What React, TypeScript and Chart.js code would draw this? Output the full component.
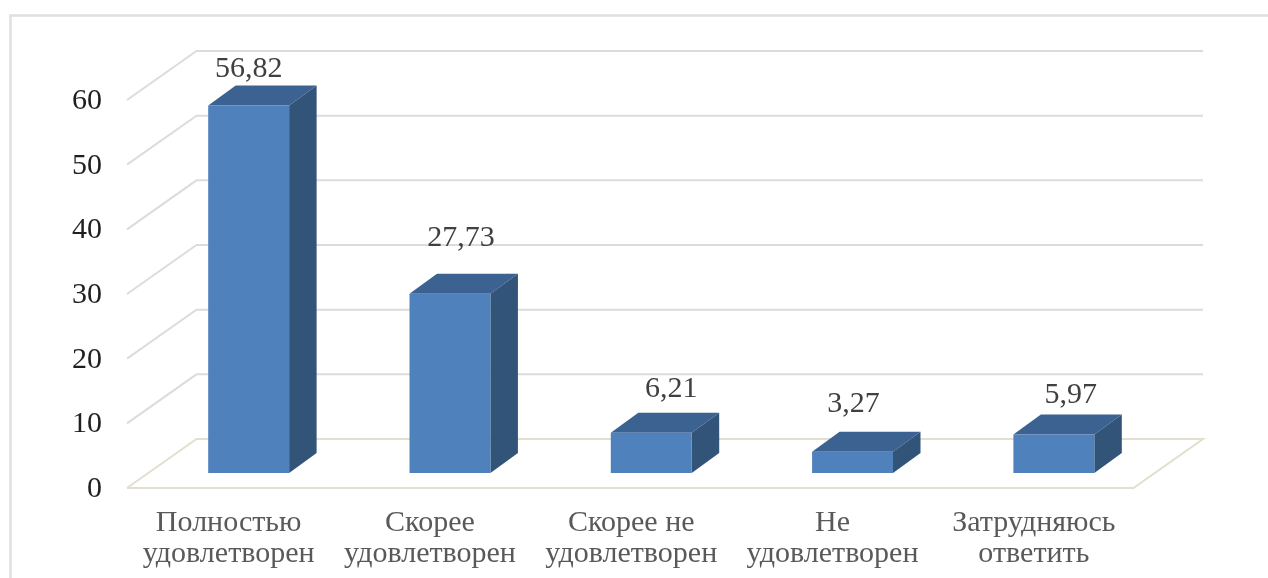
import React, { useEffect, useRef } from "react";
import { Chart, registerables } from "chart.js";

Chart.register(...registerables);

const categories = [
  ["Полностью", "удовлетворен"],
  ["Скорее", "удовлетворен"],
  ["Скорее не", "удовлетворен"],
  ["Не", "удовлетворен"],
  ["Затрудняюсь", "ответить"],
];
const seriesValues = [56.82, 27.73, 6.21, 3.27, 5.97];
const yTicks = { min: 0, max: 60, step: 10 };

// Manual placement of the data labels relative to each bar (as in the source chart)
const labelShiftX = [0, 11, 20, 1, 17];
const labelShiftY = [-36.5, -56, -43.5, -47.5, -39];

const SERIF = "'Liberation Serif', 'Times New Roman', serif";
const BAR_DEPTH = { x: 27.5, y: -20 };
const WALL_BACK = { x: 48.5, y: -34 };
const WALL_FRONT = { x: -21, y: 15 };

const depthPlugin = {
  id: "depth3d",
  beforeDraw(chart: any) {
    const { ctx } = chart;
    ctx.save();
    ctx.strokeStyle = "#e0e0e0";
    ctx.lineWidth = 2.5;
    ctx.beginPath();
    ctx.moveTo(10.5, 578);
    ctx.lineTo(10.5, 15.5);
    ctx.lineTo(1268, 15.5);
    ctx.stroke();
    ctx.restore();
  },
  beforeDatasetsDraw(chart: any) {
    const { ctx, chartArea } = chart;
    const y = chart.scales.y;
    ctx.save();
    ctx.lineWidth = 2;
    ctx.lineJoin = "miter";
    const xl = chartArea.left;
    const xr = chartArea.right;
    y.ticks.forEach((t: any) => {
      const py = y.getPixelForValue(t.value);
      ctx.strokeStyle = t.value === 0 ? "#e2dfcf" : "#dcdcdc";
      ctx.beginPath();
      ctx.moveTo(xl + WALL_FRONT.x, py + WALL_FRONT.y);
      ctx.lineTo(xl + WALL_BACK.x, py + WALL_BACK.y);
      ctx.lineTo(xr + WALL_BACK.x, py + WALL_BACK.y);
      if (t.value === 0) {
        ctx.lineTo(xr + WALL_FRONT.x, py + WALL_FRONT.y);
        ctx.lineTo(xl + WALL_FRONT.x, py + WALL_FRONT.y);
      }
      ctx.stroke();
    });

    const meta = chart.getDatasetMeta(0);
    meta.data.forEach((bar: any) => {
      const p = bar.getProps(["x", "y", "base", "width"], true);
      const l = p.x - p.width / 2;
      const r = p.x + p.width / 2;
      ctx.fillStyle = "#3b6291";
      ctx.beginPath();
      ctx.moveTo(l, p.y);
      ctx.lineTo(l + BAR_DEPTH.x, p.y + BAR_DEPTH.y);
      ctx.lineTo(r + BAR_DEPTH.x, p.y + BAR_DEPTH.y);
      ctx.lineTo(r, p.y);
      ctx.closePath();
      ctx.fill();
      ctx.fillStyle = "#325479";
      ctx.beginPath();
      ctx.moveTo(r, p.y);
      ctx.lineTo(r + BAR_DEPTH.x, p.y + BAR_DEPTH.y);
      ctx.lineTo(r + BAR_DEPTH.x, p.base + BAR_DEPTH.y);
      ctx.lineTo(r, p.base);
      ctx.closePath();
      ctx.fill();
    });
    ctx.restore();
  },
  afterDatasetsDraw(chart: any) {
    const { ctx } = chart;
    const meta = chart.getDatasetMeta(0);
    ctx.save();
    ctx.font = `30px ${SERIF}`;
    ctx.fillStyle = "#404040";
    ctx.textAlign = "center";
    ctx.textBaseline = "middle";
    meta.data.forEach((bar: any, i: number) => {
      const p = bar.getProps(["x", "y"], true);
      const text = seriesValues[i].toFixed(2).replace(".", ",");
      ctx.fillText(text, p.x + labelShiftX[i], p.y + labelShiftY[i]);
    });
    ctx.restore();
  },
};

export default function App() {
  const ref = useRef<HTMLCanvasElement>(null);
  useEffect(() => {
    document.body.style.margin = "0";
    const chart = new Chart(ref.current as HTMLCanvasElement, {
      type: "bar",
      data: {
        labels: categories,
        datasets: [
          {
            data: seriesValues,
            backgroundColor: "#4f81bd",
            borderWidth: 0,
            categoryPercentage: 1,
            barPercentage: 0.402,
          },
        ],
      },
      options: {
        animation: false,
        responsive: false,
        devicePixelRatio: 1,
        layout: { padding: { left: 0, top: 85, right: 113.5, bottom: 0 } },
        plugins: { legend: { display: false }, tooltip: { enabled: false } },
        scales: {
          x: {
            grid: { display: false, drawTicks: false },
            border: { display: false },
            afterFit: (s: any) => {
              s.height = 105;
            },
            ticks: {
              autoSkip: false,
              maxRotation: 0,
              minRotation: 0,
              labelOffset: -20,
              padding: 34,
              color: "#595959",
              font: { family: SERIF, size: 30, lineHeight: 1.05 },
            },
          },
          y: {
            min: yTicks.min,
            max: yTicks.max,
            grid: { display: false, drawTicks: false },
            border: { display: false },
            afterFit: (s: any) => {
              s.width = 148;
            },
            ticks: {
              stepSize: yTicks.step,
              labelOffset: 16,
              padding: 46,
              color: "#1f1f1f",
              font: { family: SERIF, size: 30 },
            },
          },
        },
      },
      plugins: [depthPlugin],
    } as any);
    return () => chart.destroy();
  }, []);
  return (
    <div style={{ position: "absolute", left: 0, top: 0, width: 1268, height: 578, background: "#fff" }}>
      <canvas ref={ref} width={1268} height={578} style={{ display: "block" }} />
    </div>
  );
}
